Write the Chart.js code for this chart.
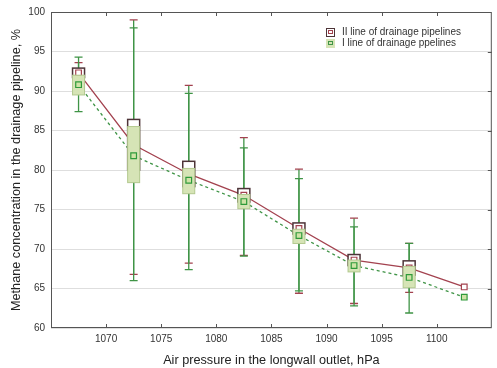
<!DOCTYPE html>
<html>
<head>
<meta charset="utf-8">
<script src="https://cdn.jsdelivr.net/npm/chart.js@4"></script>
<style>
  html, body { margin: 0; padding: 0; background: #fff; }
  #wrap { width: 497px; height: 368px; }
</style>
</head>
<body>
<div id="wrap"><canvas id="chart" width="497" height="368"></canvas></div>
<script>
// air pressure (x) of each group
const pressure = [1067.5, 1072.5, 1077.5, 1082.5, 1087.5, 1092.5, 1097.5, 1102.5];

// II line of drainage pipelines
const meanII = [92.3, 83.2, 79.5, 76.8, 72.6, 68.6, 67.6, 65.2];
const boxHighII = [92.9, 86.4, 81.1, 77.65, 73.3, 69.3, 68.5, null];
const boxLowII = [91.7, 80.0, 77.9, 75.95, 71.9, 67.9, 66.7, null];
const whiskHighII = [93.6, 99.0, 90.7, 84.1, 80.1, 73.9, 70.7, null];
const whiskLowII = [91.0, 66.8, 68.2, 69.2, 64.4, 63.1, 64.5, null];

// I line of drainage pipelines
const meanI = [90.8, 81.8, 78.7, 76.0, 71.7, 67.9, 66.4, 63.9];
const boxHighI = [92.0, 85.5, 80.2, 76.9, 72.5, 68.6, 67.8, null];
const boxLowI = [89.5, 78.4, 77.0, 75.1, 70.7, 67.1, 65.1, null];
const whiskHighI = [94.3, 98.0, 89.7, 82.8, 78.9, 72.8, 70.7, null];
const whiskLowI = [87.4, 66.0, 67.4, 69.1, 64.7, 62.8, 61.9, null];

const xTicks = [1070, 1075, 1080, 1085, 1090, 1095, 1100];
const seriesNames = ['II line of drainage pipelines', 'I line of drainage ppelines'];

const RED = '#a3424f';
const GREEN = '#3f9446';
const BOX_FILL = '#d6e4b6';
const BOX_EDGE = '#b3c98f';
const BOX_DARK = '#4e3438';

function pts(ys) {
  return pressure.map((x, i) => ({ x: x, y: ys[i] }));
}

function drawWhisker(ctx, xs, ys, i, hi, lo, capColor) {
  const px = xs.getPixelForValue(pressure[i]);
  const top = ys.getPixelForValue(hi[i]);
  const bot = ys.getPixelForValue(lo[i]);
  ctx.strokeStyle = GREEN;
  ctx.lineWidth = 1.3;
  ctx.beginPath();
  ctx.moveTo(px, top);
  ctx.lineTo(px, bot);
  ctx.stroke();
  ctx.strokeStyle = capColor;
  ctx.beginPath();
  ctx.moveTo(px - 4, top); ctx.lineTo(px + 4, top);
  ctx.moveTo(px - 4, bot); ctx.lineTo(px + 4, bot);
  ctx.stroke();
}

function drawBox(ctx, xs, ys, i, hi, lo, fill, edge, lw) {
  const px = xs.getPixelForValue(pressure[i]);
  const top = ys.getPixelForValue(hi[i]);
  const bot = ys.getPixelForValue(lo[i]);
  ctx.fillStyle = fill;
  ctx.strokeStyle = edge;
  ctx.lineWidth = lw;
  ctx.fillRect(px - 6, top, 12, bot - top);
  ctx.strokeRect(px - 6, top, 12, bot - top);
}

const boxPlugin = {
  id: 'boxes',
  afterDatasetDraw(chart, args) {
    const ctx = chart.ctx;
    const xs = chart.scales.x, ys = chart.scales.y;
    const a = chart.chartArea;
    ctx.save();
    ctx.beginPath();
    ctx.rect(a.left, a.top, a.right - a.left, a.bottom - a.top);
    ctx.clip();
    for (let i = 0; i < pressure.length; i++) {
      if (boxHighII[i] == null) continue;
      if (args.index === 1) {
        // after both lines: whiskers and the II boxes
        drawWhisker(ctx, xs, ys, i, whiskHighII, whiskLowII, RED);
        drawWhisker(ctx, xs, ys, i, whiskHighI, whiskLowI, GREEN);
        drawBox(ctx, xs, ys, i, boxHighII, boxLowII, '#ffffff', BOX_DARK, 1.5);
      } else if (args.index === 2) {
        // after II markers: the I boxes
        drawBox(ctx, xs, ys, i, boxHighI, boxLowI, BOX_FILL, BOX_EDGE, 1);
      }
    }
    ctx.restore();
  },
  afterDraw(chart) {
    const ctx = chart.ctx;
    const xs = chart.scales.x, ys = chart.scales.y;
    const a = chart.chartArea;
    ctx.save();
    // frame and inner tick marks
    ctx.strokeStyle = '#555';
    ctx.lineWidth = 1;
    ctx.strokeRect(a.left + 0.5, a.top + 0.5, a.right - a.left - 1, a.bottom - a.top - 1);
    ctx.beginPath();
    xTicks.forEach(v => {
      const px = Math.round(xs.getPixelForValue(v)) + 0.5;
      ctx.moveTo(px, a.bottom); ctx.lineTo(px, a.bottom - 4);
      ctx.moveTo(px, a.top); ctx.lineTo(px, a.top + 4);
    });
    for (let v = 65; v < 100; v += 5) {
      const py = Math.round(ys.getPixelForValue(v)) + 0.5;
      ctx.moveTo(a.right, py); ctx.lineTo(a.right - 4, py);
    }
    ctx.stroke();

    // legend
    const lx = 326, rows = [32, 43];
    ctx.font = '10px "Liberation Sans", Arial, sans-serif';
    ctx.textBaseline = 'middle';
    ctx.textAlign = 'left';
    ctx.fillStyle = '#fff';
    ctx.strokeStyle = BOX_DARK;
    ctx.fillRect(lx, rows[0] - 4, 8, 8);
    ctx.strokeRect(lx + 0.5, rows[0] - 3.5, 8, 8);
    ctx.strokeStyle = RED;
    ctx.strokeRect(lx + 2.5, rows[0] - 1.5, 4, 3);
    ctx.fillStyle = BOX_FILL;
    ctx.fillRect(lx, rows[1] - 4, 9, 9);
    ctx.strokeStyle = GREEN;
    ctx.strokeRect(lx + 2.5, rows[1] - 1.5, 4, 3);
    ctx.fillStyle = '#333';
    ctx.fillText(seriesNames[0], 342, rows[0]);
    ctx.fillText(seriesNames[1], 342, rows[1]);
    ctx.restore();
  }
};

new Chart(document.getElementById('chart'), {
  type: 'line',
  data: {
    datasets: [
      { data: pts(meanII), borderColor: RED, borderWidth: 1.3, pointRadius: 0, order: 5 },
      { data: pts(meanI), borderColor: GREEN, borderWidth: 1.3, borderDash: [3, 3], pointRadius: 0, order: 4 },
      { data: pts(meanII), showLine: false, pointStyle: 'rect', pointRadius: 4,
        pointBackgroundColor: '#fff', pointBorderColor: RED, pointBorderWidth: 1.2, order: 3 },
      { data: pts(meanI), showLine: false, pointStyle: 'rect', pointRadius: 4,
        pointBackgroundColor: '#cfe3a6', pointBorderColor: '#2e9a3a', pointBorderWidth: 1.2, order: 1 }
    ]
  },
  options: {
    responsive: false,
    animation: false,
    layout: { padding: { top: 10, right: 2, left: 0, bottom: 0 } },
    plugins: { legend: { display: false }, tooltip: { enabled: false } },
    scales: {
      x: {
        type: 'linear',
        min: 1065,
        max: 1105,
        afterFit: (s) => { s.height = 40; },
        grid: { display: false, drawTicks: false },
        border: { display: false },
        ticks: {
          stepSize: 5,
          padding: 5,
          color: '#333',
          font: { size: 10, family: '"Liberation Sans", Arial, sans-serif' },
          callback: (v) => (xTicks.includes(v) ? String(v) : '')
        },
        title: {
          display: true,
          text: 'Air pressure in the longwall outlet, hPa',
          color: '#222',
          padding: { top: 0, bottom: 0 },
          font: { size: 12.7, family: '"Liberation Sans", Arial, sans-serif' }
        }
      },
      y: {
        min: 60,
        max: 100,
        afterFit: (s) => { s.width = 51; },
        grid: { color: '#dedede', drawTicks: false },
        border: { display: false },
        ticks: {
          stepSize: 5,
          padding: 6,
          color: '#333',
          font: { size: 10, family: '"Liberation Sans", Arial, sans-serif' }
        },
        title: {
          display: true,
          text: 'Methane concentration in the drainage pipeline, %',
          color: '#222',
          padding: { top: 9, bottom: 0 },
          font: { size: 12.7, family: '"Liberation Sans", Arial, sans-serif' }
        }
      }
    }
  },
  plugins: [boxPlugin]
});
</script>
</body>
</html>
